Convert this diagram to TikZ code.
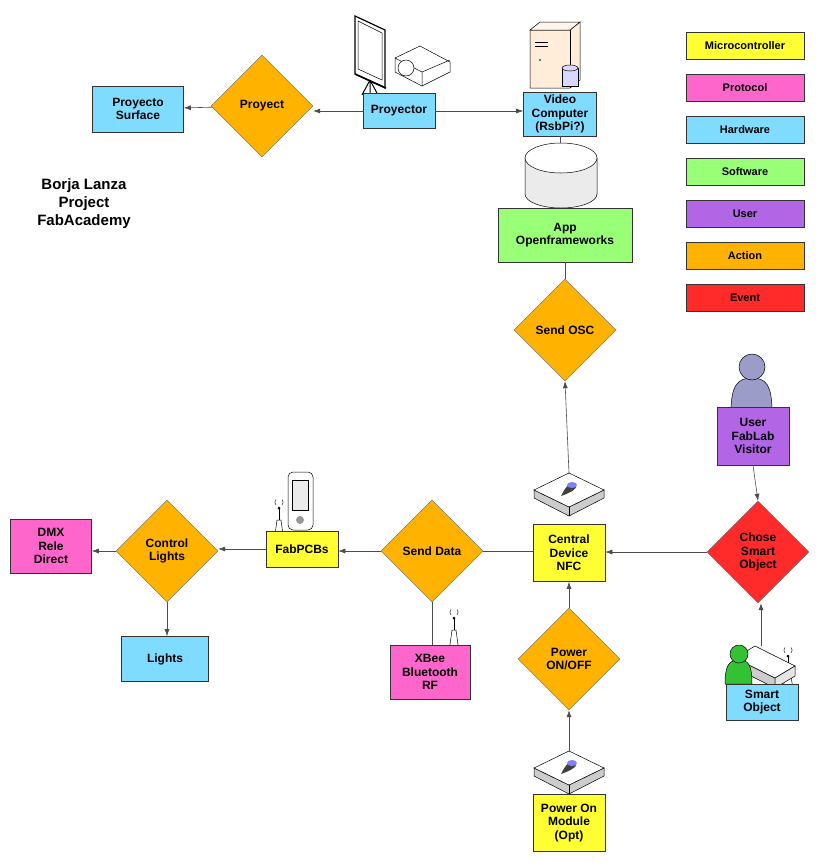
\documentclass[tikz,border=0pt]{standalone}
\usepackage{fontspec}
\setmainfont{Liberation Sans}
\usetikzlibrary{arrows.meta,shapes.geometric}
\definecolor{cyel}{HTML}{FFFF33}
\definecolor{cpink}{HTML}{FF66CC}
\definecolor{cblue}{HTML}{80DCFF}
\definecolor{cgreen}{HTML}{99FF77}
\definecolor{cpurp}{HTML}{B266E6}
\definecolor{corange}{HTML}{FFB300}
\definecolor{cred}{HTML}{FF2A2A}
\begin{document}
\begin{tikzpicture}[x=1pt,y=-1pt,
  font=\bfseries\fontsize{12}{13.5}\selectfont,
  box/.style={draw=black!80,line width=0.6pt,align=center,inner sep=1pt},
  dia/.style={diamond,draw=black!60,fill=corange,line width=0.4pt,align=center,inner sep=0pt,minimum width=102pt,minimum height=102pt,aspect=1},
  arr/.style={draw=black!70,line width=0.6pt,-{Latex[length=7pt,width=5pt]}},
  ln/.style={draw=black!70,line width=0.6pt},
  icon/.style={draw=black,line width=0.5pt}]
\useasboundingbox (0,0) rectangle (821,863);
\fill[white] (0,0) rectangle (821,863);

% ---- icons ----
% projector screen
\fill[white,icon,line width=1.2pt] (355,16) -- (385,30) -- (385,88) -- (355,74) -- cycle;
\fill[white,icon] (358,21) -- (382,33) -- (382,80) -- (358,69) -- cycle;
\draw[icon,line width=1.5pt] (355,74) -- (386,88);
\draw[icon,line width=1pt] (370,80) -- (362,95) (370,80) -- (378,95) (370,80)--(370,95);
% projector
\fill[white,icon] (395,58) -- (420,46) -- (450,62) -- (450,72) -- (422,86) -- (395,72) -- cycle;
\draw[icon] (395,58) -- (422,72) -- (450,60) (422,72) -- (422,86);
\fill[white,icon] (406,68) circle (8);
% computer tower
\fill[orange!15,icon] (530,30) -- (570,30) -- (580,22) -- (580,80) -- (570,88) -- (530,88) -- cycle;
\draw[icon] (570,30) -- (570,88);
\fill[orange!8,icon] (530,30) -- (540,22) -- (580,22) -- (570,30) -- cycle;
\draw[icon] (535,42) -- (548,42) (535,46) -- (548,46);
\fill[green!50!black] (540,60) circle (1.2);
\fill[blue!15,icon] (562,68) rectangle (578,86);
\fill[blue!15,icon] (570,68) ellipse (8 and 3);
% cylinder
\fill[black!8,icon] (525,158) -- (525,194) arc[start angle=180,end angle=0,x radius=36,y radius=14] -- (597,158) -- cycle;
\fill[white,icon] (561,158) ellipse (36 and 15);
% NFC devices
\foreach \cx/\cy in {569/490, 569/768}{
  \fill[black!20,icon] (\cx-35,\cy) -- (\cx-35,\cy+8) -- (\cx,\cy+26) -- (\cx+35,\cy+8) -- (\cx+35,\cy) -- (\cx,\cy+17) -- cycle;
  \fill[white,icon] (\cx-35,\cy) -- (\cx,\cy-17) -- (\cx+35,\cy) -- (\cx,\cy+17) -- cycle;
  \draw[icon] (\cx,\cy+17) -- (\cx,\cy+26);
  \fill[black!75] (\cx-8,\cy+6) .. controls (\cx-4,\cy-2) and (\cx,\cy-8) .. (\cx+6,\cy-6) .. controls (\cx+10,\cy-3) and (\cx+4,\cy+2) .. cycle;
  \fill[blue!50!white] (\cx+3,\cy-5) ellipse (5 and 3);
}
% user person
\fill[blue!30!gray!60,icon] (731,412) .. controls (731,385) and (738,378) .. (752,378) .. controls (766,378) and (772,385) .. (772,412) -- cycle;
\fill[blue!30!gray!60,icon] (752,367) circle (13);
% PDA
\fill[white,icon,rounded corners=5pt] (288,472) rectangle (313,530);
\fill[black!8,icon] (292,480) rectangle (308,510);
\fill[black!40] (300,520) circle (4);
% antennas
\foreach \ax/\ay in {279/520, 454/630, 788/668}{
  \fill[white,icon] (\ax-5,\ay+22) -- (\ax-2,\ay) -- (\ax+2,\ay) -- (\ax+5,\ay+22) -- cycle;
  \draw[icon] (\ax,\ay) -- (\ax,\ay-12);
  \fill (\ax,\ay-12) circle (1.5);
  \draw[line width=0.4pt] (\ax-3,\ay-15) arc[start angle=135,end angle=225,radius=4] (\ax+3,\ay-15) arc[start angle=45,end angle=-45,radius=4];
}
% smart object device + green person
\fill[black!20,icon] (735,658) -- (735,668) -- (775,688) -- (775,678) -- cycle;
\fill[white,icon] (735,658) -- (755,646) -- (795,666) -- (775,678) -- cycle;
\fill[black!10,icon] (775,678) -- (795,666) -- (795,676) -- (775,688) -- cycle;
\fill[green!70!black!80,icon] (725,684) .. controls (725,664) and (730,660) .. (739,660) .. controls (748,660) and (752,664) .. (752,684) -- cycle;
\fill[green!70!black!80,icon] (739,654) circle (9);

% ---- nodes ----
\node[box,fill=cblue,minimum width=91pt,minimum height=46pt] (surf) at (138,109) {Proyecto\\Surface};
\node[dia] (proyect) at (262,106) {Proyect};
\node[box,fill=cblue,minimum width=72pt,minimum height=35pt] (proyector) at (399,111) {Proyector};
\node[box,fill=cblue,minimum width=73pt,minimum height=44pt] (video) at (560,114) {Video\\Computer\\(RsbPi?)};
\node[box,fill=cgreen,minimum width=134pt,minimum height=54pt] (app) at (565,235) {App\\Openframeworks};
\node[dia] (osc) at (565,330) {Send OSC};
\node[box,fill=cyel,minimum width=72pt,minimum height=57pt] (central) at (569,553) {Central\\Device\\NFC};
\coordinate (nfctop) at (569,473);
\node[dia,fill=cred] (chose) at (758,552) {Chose\\Smart\\Object};
\node[box,fill=cpurp,minimum width=72pt,minimum height=58pt] (user) at (753,436) {User\\FabLab\\Visitor};
\node[box,fill=cblue,minimum width=72pt,minimum height=36pt] (smart) at (762,702) {Smart\\Object};
\coordinate (smarttop) at (761,646);
\node[dia] (power) at (569,659) {Power\\ON/OFF};
\node[box,fill=cyel,minimum width=72pt,minimum height=57pt] (module) at (569,823) {Power On\\Module\\(Opt)};
\coordinate (modtop) at (569,751);
\node[dia] (send) at (432,551) {Send Data};
\node[box,fill=cpink,minimum width=80pt,minimum height=54pt] (xbee) at (430,672) {XBee\\Bluetooth\\RF};
\node[box,fill=cyel,minimum width=72pt,minimum height=36pt] (fab) at (302,549) {FabPCBs};
\node[dia] (ctrl) at (167,551) {Control\\Lights};
\node[box,fill=cpink,minimum width=81pt,minimum height=54pt] (dmx) at (51,546) {DMX\\Rele\\Direct};
\node[box,fill=cblue,minimum width=87pt,minimum height=45pt] (lights) at (165,659) {Lights};

\node[align=center,font=\bfseries\fontsize{15}{18}\selectfont] (title) at (84,204) {Borja Lanza\\Project\\FabAcademy};

% legend
\foreach \n/\t/\c/\y in {l1/Microcontroller/cyel/46, l2/Protocol/cpink/88, l3/Hardware/cblue/130, l4/Software/cgreen/172, l5/User/cpurp/214, l6/Action/corange/256, l7/Event/cred/298}{
  \node[box,fill=\c,minimum width=118pt,minimum height=27pt,font=\bfseries\fontsize{11}{12}\selectfont] (\n) at (745,\y) {\t};
}

% ---- connectors ----
\draw[arr] (proyector) -- (proyect.east |- proyector.west);
\draw[arr] (proyector) -- (video.west |- proyector.east);
\draw[arr] (proyect) -- (surf);
\draw[ln] (video.south) -- (560,143);
\draw[ln] (app.south) -- (osc.north);
\draw[arr] (nfctop) -- (osc.south);
\draw[arr] (chose.west) -- (central.east |- chose.west);
\draw[arr] (user.south) -- (chose.north);
\draw[arr] (smarttop) -- (chose.south -| smarttop);
\draw[arr] (power.north) -- (central.south);
\draw[arr] (modtop) -- (power.south);
\draw[ln] (central.west |- send.east) -- (send.east);
\draw[arr] (send.west) -- (fab.east |- send.west);
\draw[arr] (fab.west) -- (ctrl.east |- fab.west);
\draw[arr] (ctrl.west) -- (dmx.east |- ctrl.west);
\draw[arr] (ctrl.south) -- (lights.north -| ctrl.south);
\draw[ln] (send.south) -- (xbee.north -| send.south);
\end{tikzpicture}
\end{document}
